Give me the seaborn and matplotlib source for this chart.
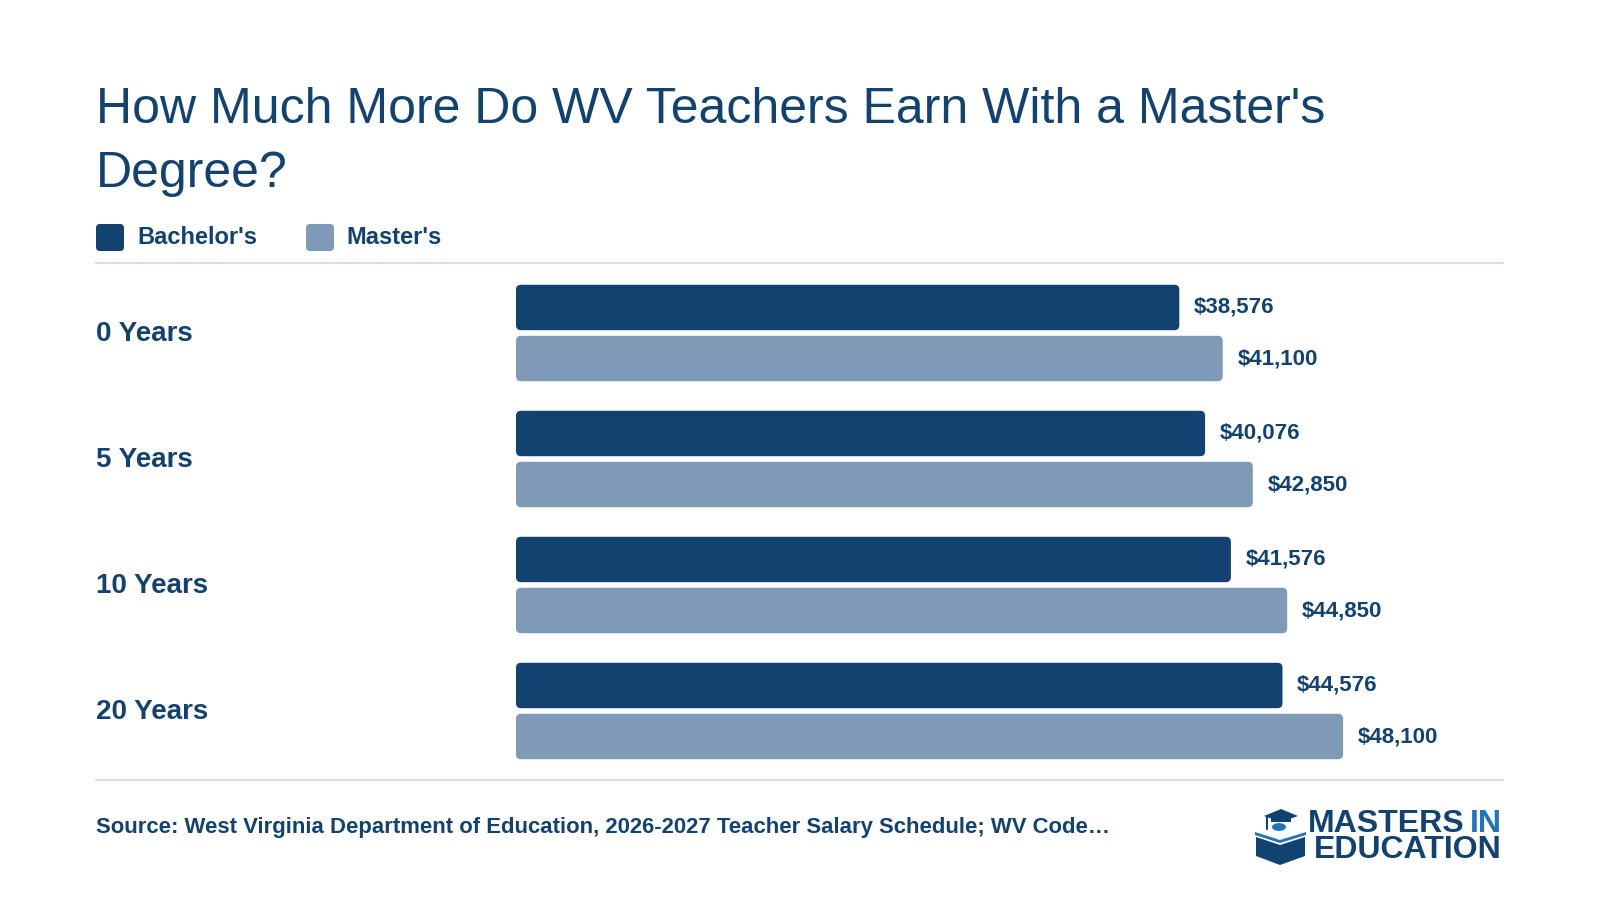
import pandas as pd
import matplotlib.pyplot as plt
import seaborn as sns
from matplotlib.patches import FancyBboxPatch, Polygon, Circle
from matplotlib.lines import Line2D
from matplotlib.transforms import blended_transform_factory

# Data
experience = ["0 Years", "5 Years", "10 Years", "20 Years"]
bachelors = [38576, 40076, 41576, 44576]
masters = [41100, 42850, 44850, 48100]
series = ["Bachelor's", "Master's"]

df = pd.DataFrame({
    "Experience": experience * 2,
    "Degree": [series[0]] * len(experience) + [series[1]] * len(experience),
    "Salary": bachelors + masters,
})

NAVY = "#12426f"
LIGHT = "#7f9ab6"
BRIGHT = "#1f74bd"
RULE = "#d3dde8"

sns.set_theme(style="white")
plt.rcParams["font.family"] = ["Liberation Sans", "DejaVu Sans"]

W, H = 1600, 900
fig = plt.figure(figsize=(16, 9), dpi=100)
fig.patch.set_facecolor("white")


def fx(px):
    return px / W


def fy(py):
    return 1 - py / H


# -----------------------------------
# Bars
# -----------------------------------
ax_left, ax_right, ax_top, ax_bot = 516, 1503, 270, 774
ax = fig.add_axes([fx(ax_left), fy(ax_bot), (ax_right - ax_left) / W, (ax_bot - ax_top) / H])
sns.barplot(data=df, y="Experience", x="Salary", hue="Degree", order=experience,
            hue_order=series, palette=[NAVY, LIGHT], orient="h", width=0.81, gap=0.11,
            saturation=1, legend=False, ax=ax)
xmax = 57400
ax.set_xlim(0, xmax)
ax.set_ylim(len(experience) - 0.5, -0.5)
ax.axis("off")

# rounded corners + value labels
x_per_px = xmax / (ax_right - ax_left)
y_per_px = len(experience) / (ax_bot - ax_top)
r = 5
for bar in list(ax.patches):
    x0, y0 = bar.get_x(), bar.get_y()
    w, h = bar.get_width(), bar.get_height()
    fc = bar.get_facecolor()
    bar.remove()
    ax.add_patch(FancyBboxPatch((x0, y0), w, h,
                                boxstyle=f"round,pad=0,rounding_size={r * x_per_px}",
                                mutation_aspect=y_per_px / x_per_px, fc=fc, ec="none"))
    ax.annotate(f"${w:,.0f}", (x0 + w, y0 + h / 2), xytext=(10.5, 0),
                textcoords="offset points", ha="left", va="center",
                fontsize=16, fontweight="bold", color=NAVY)

# category labels on the left
trans = blended_transform_factory(fig.transFigure, ax.transData)
for i, label in enumerate(experience):
    ax.text(fx(96), i + 0.01, label, transform=trans, ha="left", va="center",
            fontsize=20, fontweight="bold", color=NAVY)

# -----------------------------------
# Title, legend, rules, source
# -----------------------------------
fig.text(fx(96), fy(123), "How Much More Do WV Teachers Earn With a Master's",
         fontsize=36, color=NAVY, va="baseline")
fig.text(fx(96), fy(187), "Degree?", fontsize=36, color=NAVY, va="baseline")

legend_items = [(series[0], NAVY, 96, 137), (series[1], LIGHT, 306, 346)]
for name, col, sx, tx in legend_items:
    fig.add_artist(FancyBboxPatch((fx(sx), fy(251)), 28 / W, 27 / H,
                                  boxstyle=f"round,pad=0,rounding_size={4 / W}",
                                  mutation_aspect=W / H, fc=col, ec="none",
                                  transform=fig.transFigure))
    fig.text(fx(tx), fy(237), name, fontsize=17, fontweight="bold", color=NAVY, va="center")

for yy in (263, 780):
    fig.add_artist(Line2D([fx(96), fx(1503)], [fy(yy), fy(yy)], color=RULE, lw=1.5))

fig.text(fx(96), fy(828),
         "Source: West Virginia Department of Education, 2026-2027 Teacher Salary Schedule; WV Code…",
         fontsize=15.9, fontweight="bold", color=NAVY, va="center")

# -----------------------------------
# Logo
# -----------------------------------
renderer = fig.canvas.get_renderer()
t_in = fig.text(fx(1502), fy(824), "IN", fontsize=23, fontweight="bold", color=BRIGHT,
                ha="right", va="center")
bb = t_in.get_window_extent(renderer)
fig.text(fx(bb.x0 - 5), fy(824), "MASTERS", fontsize=23, fontweight="bold", color=NAVY,
         ha="right", va="center")
fig.text(fx(1502), fy(850), "EDUCATION", fontsize=23, fontweight="bold", color=NAVY,
         ha="right", va="center")


def poly(points, col):
    fig.add_artist(Polygon([(fx(px), fy(py)) for px, py in points], closed=True,
                           fc=col, ec="none", transform=fig.transFigure))


# book
poly([(1256, 837), (1280, 845), (1305, 837), (1305, 856), (1280, 865), (1256, 856)], NAVY)
poly([(1255, 832), (1280, 840), (1306, 832), (1306, 835), (1280, 843), (1255, 835)], BRIGHT)
# head
fig.add_artist(Circle((fx(1279), fy(827)), 7 / W, fc=BRIGHT, ec="none",
                      transform=fig.transFigure))
# mortarboard
poly([(1264, 816), (1281, 809), (1298, 816), (1281, 822)], NAVY)
poly([(1271, 817), (1291, 817), (1291, 822), (1271, 822)], NAVY)
fig.add_artist(Line2D([fx(1267), fx(1267)], [fy(817), fy(829)], color=NAVY, lw=1.5))

fig.savefig("out.png", dpi=100, facecolor="white")
